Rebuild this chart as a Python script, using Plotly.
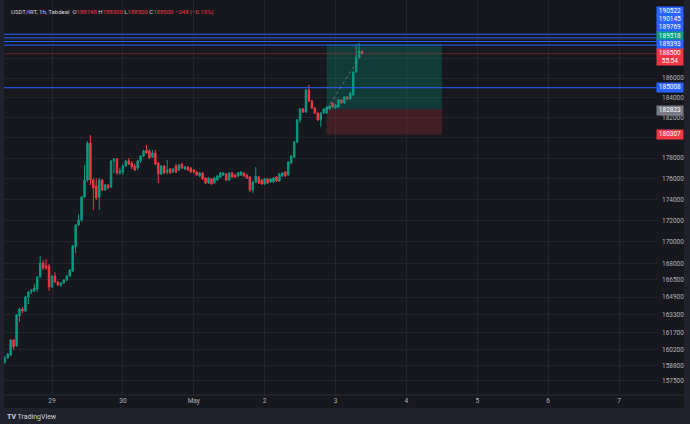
import plotly.graph_objects as go
import pandas as pd

# ---------------- data ----------------
start_time = "2025-04-28 08:00"

opens = [159130, 159480, 159740, 161070, 160540, 163200, 163830, 163650, 164910, 165370,
         165460, 165640, 166740, 168020, 167750, 167750, 165820, 166830, 166280, 166010,
         166190, 166460, 166830, 167290, 169510, 171570, 172040, 174230, 175860, 179470,
         175860, 175290, 174230, 175860, 174900, 175380, 175190, 177710, 177910, 176540,
         176640, 177220, 177710, 177510, 177220, 177030, 177710, 178200, 178790, 178690,
         178100, 178490, 177510, 176440, 177220, 176640, 176930, 176640, 177220, 176830,
         177420, 176930, 177120, 177030, 176830, 176640, 176250, 176540, 176060, 175570,
         175960, 175570, 175860, 176150, 176350, 176440, 175860, 176540, 176350, 176250,
         176350, 176540, 176350, 176150, 174900, 175670, 176150, 175860, 175480, 175960,
         175670, 175670, 176150, 175770, 176250, 176640, 176350, 177510, 178100, 179570,
         181760, 182860, 182560, 184780, 183660, 182960, 182460, 181760, 182460, 182460,
         182860, 183460, 182960, 183060, 183770, 183460, 184070, 183870, 184270, 186610,
         188160, 188748]

highs = [159660, 159920, 161150, 161150, 163380, 163920, 164010, 165000, 165460, 165640,
         166100, 166830, 168670, 168300, 168390, 167930, 166920, 167190, 166370, 166280,
         166550, 166920, 167470, 169690, 171660, 172610, 174330, 177320, 179670, 180260,
         176060, 176060, 176060, 175960, 175480, 175480, 177810, 178000, 178000, 177030,
         177420, 177810, 178000, 177710, 177420, 177810, 178300, 178790, 179280, 178890,
         178790, 178790, 177610, 177320, 177320, 177810, 177030, 177030, 177420, 177420,
         177510, 177220, 177220, 177120, 176930, 176740, 176640, 176640, 176150, 176150,
         176060, 176150, 176350, 176640, 176640, 176540, 176640, 176640, 176440, 176640,
         176740, 176640, 176440, 176250, 175770, 177120, 176250, 175960, 176060, 176060,
         176060, 176150, 176250, 176540, 176640, 176740, 177710, 178300, 179670, 181860,
         182960, 182960, 184880, 185290, 183770, 183060, 182560, 182560, 182960, 183160,
         183260, 183560, 183360, 183870, 183870, 184170, 184170, 184580, 186720, 189510,
         189620, 188850]

lows = [158960, 159390, 159660, 160180, 160450, 162670, 163470, 163560, 164280, 165180,
        165370, 165370, 166640, 167380, 167380, 165460, 165730, 166190, 165910, 165820,
        166100, 166370, 166740, 167190, 168950, 171470, 171850, 174130, 175670, 175380,
        172990, 173940, 172990, 174800, 174800, 175000, 175090, 176540, 176350, 176350,
        176350, 177120, 177320, 176930, 176740, 176830, 177510, 178100, 178390, 177910,
        178000, 177320, 175570, 176350, 176440, 176440, 176440, 176540, 176540, 176740,
        176930, 176830, 176740, 176540, 176440, 176250, 176150, 175860, 175480, 175480,
        175380, 175480, 175770, 176060, 176250, 175770, 175770, 176060, 176060, 176150,
        176250, 176150, 175960, 174710, 174610, 175570, 175480, 175380, 175380, 175480,
        175570, 175570, 175670, 175670, 176150, 176150, 176250, 177420, 178000, 179470,
        181460, 182460, 182460, 183560, 182860, 182360, 181660, 181060, 182360, 182360,
        182760, 182960, 182860, 182960, 183360, 183360, 183770, 183770, 184170, 186510,
        188060, 188400]

closes = [159480, 159830, 161070, 160450, 163290, 163830, 163650, 164910, 165370, 165550,
          165730, 166740, 168020, 167560, 167560, 165820, 166830, 166280, 166010, 166190,
          166460, 166830, 167380, 169600, 171570, 172040, 174230, 175860, 179470, 175860,
          175090, 174130, 175860, 174900, 175380, 175090, 177710, 177910, 176540, 176730,
          177220, 177710, 177420, 177120, 176830, 177710, 178200, 178690, 178490, 178000,
          178490, 177420, 176440, 177220, 176540, 176830, 176540, 176930, 176640, 177320,
          177030, 177120, 176830, 176640, 176640, 176350, 176540, 175960, 175570, 176060,
          175480, 176060, 176250, 176540, 176540, 175860, 176540, 176150, 176150, 176540,
          176640, 176250, 176060, 174900, 175670, 176250, 175570, 175480, 175960, 175570,
          175960, 176060, 175770, 176440, 176540, 176250, 177610, 178200, 179570, 181760,
          182860, 182560, 184780, 183660, 182960, 182460, 181760, 182460, 182860, 183060,
          183160, 183060, 183260, 183770, 183460, 184070, 183870, 184470, 186610, 188160,
          188780, 188500]

# horizontal levels
blue_levels = [190522, 190145, 189769, 189393, 185008]
last_price = 188500
entry_price = 182823
target_price = 189518
stop_price = 180307
position_start = "2025-05-02 21:00"
position_end = "2025-05-04 12:00"
dash_end_time = "2025-05-03 09:00"

# axis ticks
y_tickvals = [190000, 188000, 186000, 184000, 182000, 180000, 178000, 176000, 174000,
              172000, 170000, 168000, 166500, 164900, 163300, 161700, 160200, 158800, 157500]
y_ticktext = ["", "", "186000", "184000", "182000", "", "178000", "176000", "174000",
              "172000", "170000", "168000", "166500", "164900", "163300", "161700",
              "160200", "158800", "157500"]
x_tickvals = ["2025-04-29", "2025-04-30", "2025-05-01", "2025-05-02", "2025-05-03",
              "2025-05-04", "2025-05-05", "2025-05-06", "2025-05-07"]
x_ticktext = ["29", "30", "May", "2", "3", "4", "5", "6", "7"]

# right-axis price labels: (text, colour, pixel y centre, height)
price_labels = [
    ("190522", "#2962FF", 11.5, 8.5),
    ("190145", "#2962FF", 19.5, 8.5),
    ("189769", "#2962FF", 27.5, 8.5),
    ("189518", "#089981", 36, 8.5),
    ("189393", "#2962FF", 44.5, 8.5),
    ("188500<br>55:54", "#F23645", 57, 16),
    ("185008", "#2962FF", 88, 8.5),
    ("182823", "#787B86", 110, 8.5),
    ("180307", "#F23645", 134.5, 8.5),
]

times = pd.date_range(start_time, periods=len(opens), freq="h")

# ---------------- layout constants ----------------
W, H = 690, 424
L, R, T, B = 4, 33, 0, 29
PW = W - L - R
PH = H - T - B
x_range = ["2025-04-28 07:44:45", "2025-05-07 12:52:00"]
y_range = [5.19387, 5.288126]

PANEL = "#17181d"
OUTER = "#1f222c"
GRID = "#23252b"
GREEN = "#089981"
RED = "#F23645"
TXT = "#b2b5be"
FONT = "Roboto"


def pxx(p):
    return (p - L) / PW


def pxy(p):
    return (PH + T - p) / PH


fig = go.Figure()

# position tool boxes
fig.add_trace(go.Scatter(
    x=[position_start, position_end, position_end, position_start, position_start],
    y=[entry_price, entry_price, target_price, target_price, entry_price],
    fill="toself", fillcolor="rgba(8,153,129,0.27)", mode="lines",
    line=dict(width=0), hoverinfo="skip", showlegend=False))
fig.add_trace(go.Scatter(
    x=[position_start, position_end, position_end, position_start, position_start],
    y=[stop_price, stop_price, entry_price, entry_price, stop_price],
    fill="toself", fillcolor="rgba(242,54,69,0.2)", mode="lines",
    line=dict(width=0), hoverinfo="skip", showlegend=False))

# horizontal levels
for lv in blue_levels:
    fig.add_trace(go.Scatter(x=x_range, y=[lv, lv], mode="lines",
                             line=dict(color="#2962FF", width=1),
                             hoverinfo="skip", showlegend=False))
fig.add_trace(go.Scatter(x=x_range, y=[last_price, last_price], mode="lines",
                         line=dict(color="rgba(242,54,69,0.35)", width=1),
                         hoverinfo="skip", showlegend=False))

# dashed line of the position tool
fig.add_trace(go.Scatter(x=[position_start, dash_end_time], y=[entry_price, last_price],
                         mode="lines", line=dict(color="rgba(150,153,160,0.6)", width=1, dash="dot"),
                         hoverinfo="skip", showlegend=False))

# candles
fig.add_trace(go.Candlestick(
    x=times, open=opens, high=highs, low=lows, close=closes,
    increasing=dict(line=dict(color=GREEN, width=1), fillcolor=GREEN),
    decreasing=dict(line=dict(color=RED, width=1), fillcolor=RED),
    whiskerwidth=0, showlegend=False))

shapes = [
    # chart panel (incl. price & time axes)
    dict(type="rect", xref="paper", yref="paper", x0=pxx(4), x1=pxx(684),
         y0=pxy(408), y1=pxy(0), fillcolor=PANEL, line=dict(width=0), layer="below"),
    # time axis separator
    dict(type="line", xref="paper", yref="paper", x0=pxx(4), x1=pxx(684),
         y0=pxy(395), y1=pxy(395), line=dict(color="#2a2d36", width=1)),
]

annotations = []
for text, col, yc, h in price_labels:
    annotations.append(dict(xref="paper", yref="paper", x=pxx(670), y=pxy(yc),
                            text=text, showarrow=False, bgcolor=col, width=26, height=h,
                            font=dict(family=FONT, size=6.5, color="#ffffff"),
                            xanchor="center", yanchor="middle", borderpad=0))

header = ('<span style="color:#d1d4dc">USDT/IRT, 1h, Tabdeal</span>'
          '  <span style="color:#d1d4dc">O</span><span style="color:#F23645">188748</span>'
          ' <span style="color:#d1d4dc">H</span><span style="color:#F23645">188500</span>'
          ' <span style="color:#d1d4dc">L</span><span style="color:#F23645">188500</span>'
          ' <span style="color:#d1d4dc">C</span><span style="color:#F23645">188500</span>'
          ' <span style="color:#F23645">\u2212248 (\u22120.13%)</span>')
annotations.append(dict(xref="paper", yref="paper", x=pxx(9), y=pxy(12), text=header,
                        showarrow=False, xanchor="left", yanchor="middle",
                        font=dict(family=FONT, size=6, color="#d1d4dc")))
annotations.append(dict(xref="paper", yref="paper", x=pxx(5), y=pxy(417),
                        text="<b>TV</b> TradingView", showarrow=False,
                        xanchor="left", yanchor="middle",
                        font=dict(family=FONT, size=7, color="#d1d4dc")))

fig.update_layout(
    width=W, height=H,
    margin=dict(l=L, r=R, t=T, b=B),
    paper_bgcolor=OUTER, plot_bgcolor=PANEL,
    showlegend=False,
    shapes=shapes, annotations=annotations,
    xaxis=dict(type="date", range=x_range, rangeslider=dict(visible=False),
               tickvals=x_tickvals, ticktext=x_ticktext, showgrid=True, gridcolor=GRID,
               gridwidth=1, zeroline=False, showline=False, ticks="",
               tickfont=dict(family=FONT, size=6.5, color=TXT), ticklabelstandoff=0),
    yaxis=dict(type="log", range=y_range, side="right", tickvals=y_tickvals,
               ticktext=y_ticktext, showgrid=True, gridcolor=GRID, gridwidth=1,
               zeroline=False, showline=False, ticks="",
               tickfont=dict(family=FONT, size=6.5, color=TXT), ticklabelstandoff=4),
    hovermode=False,
)

fig.write_html("out.html")
